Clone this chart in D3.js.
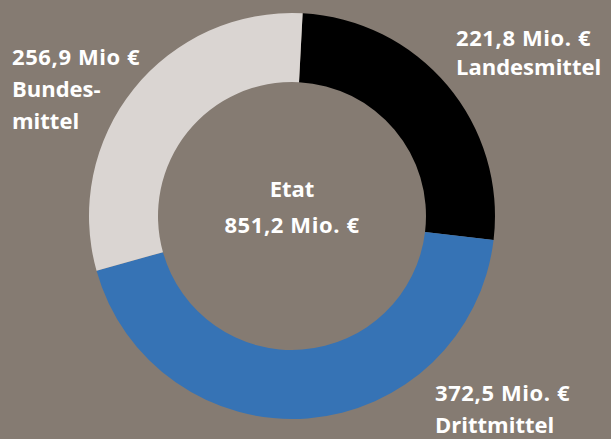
<!DOCTYPE html>
<html lang="de">
<head>
<meta charset="utf-8">
<script src="https://cdn.jsdelivr.net/npm/d3@7/dist/d3.min.js"></script>
<style>
  html, body { margin: 0; padding: 0; background: #857b72; }
  svg { display: block; }
  text { font-family: "Open Sans", "Noto Sans", sans-serif; font-weight: 700; fill: #ffffff; }
  .num { letter-spacing: 0.6px; }
</style>
</head>
<body>
<svg id="chart" width="611" height="439"></svg>
<script>
// Funding sources (Mio. €), drawn clockwise from the top
const categories = ["Landesmittel", "Drittmittel", "Bundesmittel"];
const values = [221.8, 372.5, 256.9];
const units = ["Mio. €", "Mio. €", "Mio €"];
const nameLines = [["Landesmittel"], ["Drittmittel"], ["Bundes-", "mittel"]];
const colors = ["#000000", "#3673b5", "#dad5d2"];
const totalTitle = "Etat";

const width = 611, height = 439;
const cx = 292, cy = 216;
const outerR = 203, innerR = 134;
const startDeg = 3;

const fmt = v => d3.format(".1f")(v).replace(".", ",");
const total = d3.sum(values);

const svg = d3.select("#chart");

const pie = d3.pie()
  .sort(null)
  .value(d => d)
  .startAngle(startDeg * Math.PI / 180)
  .endAngle(2 * Math.PI + startDeg * Math.PI / 180);

const arc = d3.arc().innerRadius(innerR).outerRadius(outerR);

const color = d3.scaleOrdinal().domain(categories).range(colors);

const g = svg.append("g").attr("transform", `translate(${cx},${cy})`);

g.selectAll("path.slice")
  .data(pie(values))
  .join("path")
  .attr("class", "slice")
  .attr("d", arc)
  .attr("fill", (d, i) => color(categories[i]));

// Segment labels: value on the first line, name below
const labelPos = [
  { x: 456, y: 46, lh: 29 },
  { x: 435, y: 401, lh: 32 },
  { x: 12, y: 65, lh: 32 }
];

categories.forEach((c, i) => {
  const p = labelPos[i];
  const t = svg.append("text")
    .attr("x", p.x).attr("y", p.y)
    .style("font-size", "22px");
  t.append("tspan")
    .attr("class", "num")
    .attr("x", p.x).attr("y", p.y)
    .text(`${fmt(values[i])} ${units[i]}`);
  nameLines[i].forEach((ln, j) => {
    t.append("tspan")
      .attr("x", p.x)
      .attr("y", p.y + (j + 1) * p.lh)
      .text(ln);
  });
});

// Centre: total budget
const center = svg.append("text")
  .attr("text-anchor", "middle")
  .style("font-size", "22px");
center.append("tspan").attr("x", cx).attr("y", 197).text(totalTitle);
center.append("tspan").attr("class", "num").attr("x", cx).attr("y", 233).text(`${fmt(total)} Mio. €`);
</script>
</body>
</html>
